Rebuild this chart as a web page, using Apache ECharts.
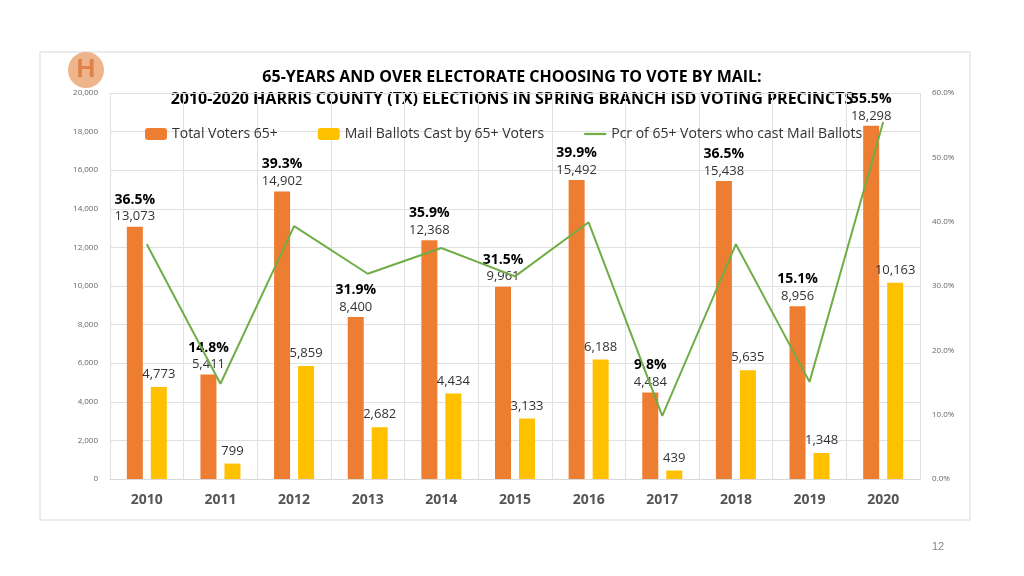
<!DOCTYPE html><html><head><meta charset="utf-8"><script src="https://cdn.jsdelivr.net/npm/echarts@6/dist/echarts.min.js"></script>
<style>body{margin:0;background:#fff}#c{width:1024px;height:576px}</style></head><body><div id="c"></div><script>
const years=['2010','2011','2012','2013','2014','2015','2016','2017','2018','2019','2020'];
const totalVoters=[13073,5411,14902,8400,12368,9961,15492,4484,15438,8956,18298];
const mailBallots=[4773,799,5859,2682,4434,3133,6188,439,5635,1348,10163];
const pct=[36.5,14.8,39.3,31.9,35.9,31.5,39.9,9.8,36.5,15.1,55.5];
const c=echarts.init(document.getElementById('c'));
const fmt=v=>v.toLocaleString('en-US');
c.setOption({
 animation:false,
 textStyle:{fontFamily:'"Open Sans", Arial'},
 graphic:[
  {type:'rect',shape:{x:40,y:52,width:930,height:468},style:{fill:'none',stroke:'#d9d9d9',lineWidth:1}},
  {type:'circle',shape:{cx:86,cy:70,r:18},style:{fill:'#f0b48a'}},
  {type:'text',style:{x:86,y:70,text:'H',font:'bold 26px Arial',fill:'#e0824a',align:'center',verticalAlign:'middle'}},
  {type:'text',style:{x:932,y:541,text:'12',font:'11px Arial',fill:'#888'}},
  {type:'text',style:{x:512,y:77,text:'65-YEARS AND OVER ELECTORATE CHOOSING TO VOTE BY MAIL:',font:'bold 16px "Open Sans", Arial',fill:'#000',align:'center',verticalAlign:'middle'}},
  {type:'text',style:{x:512,y:99,text:'2010-2020 HARRIS COUNTY (TX) ELECTIONS IN SPRING BRANCH ISD VOTING PRECINCTS',font:'bold 16px "Open Sans", Arial',fill:'#000',align:'center',verticalAlign:'middle'}}
 ],
 legend:{top:122,left:140,itemGap:40,itemWidth:22,itemHeight:12,textStyle:{fontSize:14,color:'#333',fontFamily:'Open Sans'},
  data:[{name:'Total Voters 65+'},{name:'Mail Ballots Cast by 65+ Voters'},{name:'Pcr of 65+ Voters who cast Mail Ballots',icon:'path://M0,5 L20,5 L20,7 L0,7 Z'}]},
 grid:{left:110,right:104,top:93,bottom:97},
 xAxis:{type:'category',data:years,axisTick:{show:false},axisLine:{lineStyle:{color:'#d9d9d9'}},
  splitLine:{show:true,lineStyle:{color:'#e0e0e0'}},
  axisLabel:{fontSize:14,fontWeight:'bold',color:'#555',margin:14}},
 yAxis:[{type:'value',min:0,max:20000,interval:2000,axisLabel:{fontSize:8,color:'#666',formatter:v=>fmt(v),margin:12},splitLine:{lineStyle:{color:'#e0e0e0'}}},
  {type:'value',min:0,max:60,interval:10,axisLabel:{fontSize:8,color:'#666',formatter:v=>v.toFixed(1)+'%',margin:12},splitLine:{show:false}}],
 series:[
  {name:'Total Voters 65+',type:'bar',data:totalVoters,barWidth:16,barGap:'50%',itemStyle:{color:'#ed7d31'},
   label:{show:true,position:'top',distance:2,formatter:p=>'{p|'+pct[p.dataIndex].toFixed(1)+'%}\n{v|'+fmt(p.value)+'}',
    rich:{p:{fontSize:14,fontWeight:'bold',color:'#000',lineHeight:18},v:{fontSize:13,color:'#333',lineHeight:16}}}},
  {name:'Mail Ballots Cast by 65+ Voters',type:'bar',data:mailBallots,barWidth:16,itemStyle:{color:'#ffc000'},
   label:{show:true,position:'top',distance:6,fontSize:13,color:'#333',formatter:p=>fmt(p.value)}},
  {name:'Pcr of 65+ Voters who cast Mail Ballots',type:'line',yAxisIndex:1,data:pct,symbol:'none',lineStyle:{color:'#70ad47',width:2},itemStyle:{color:'#70ad47'}}
 ]
});
</script></body></html>
